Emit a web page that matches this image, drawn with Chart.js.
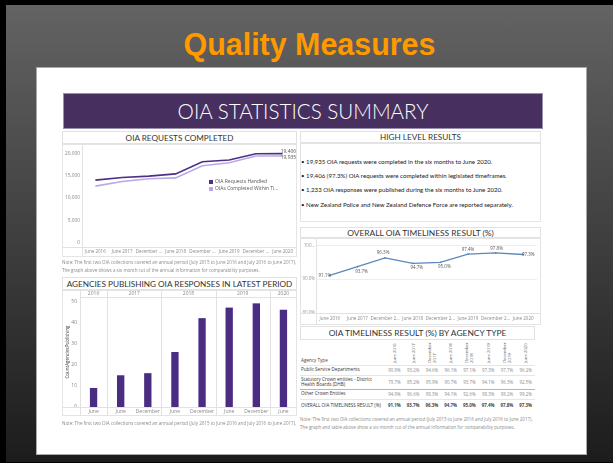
<!DOCTYPE html>
<html><head><meta charset="utf-8">
<script src="https://cdn.jsdelivr.net/npm/chart.js@4/dist/chart.umd.min.js"></script>
<style>
html,body{margin:0;padding:0;background:#000;width:613px;height:463px;overflow:hidden;position:relative;}
.a{position:absolute;box-sizing:border-box;}
#slide{left:6px;top:5px;width:607px;height:457px;background:linear-gradient(#636363,#1c1c1c);}
#qm{left:6px;top:27px;width:607px;text-align:center;font:bold 28px 'Liberation Sans',Arial,sans-serif;color:#ff9900;white-space:nowrap;line-height:34px;}
#panel{left:36px;top:67px;width:551px;height:388px;background:#fff;border:1px solid #a8a8a8;}
#hdr{left:63px;top:93px;width:480px;height:36px;background:#47305f;border:1px solid #9a8fb0;color:#fff;text-align:center;font-family:Lato,sans-serif;font-weight:300;font-size:22px;line-height:34px;white-space:nowrap;}
.tt{background:#fff;border:1px solid #e2e2e2;text-align:center;font-family:Lato,sans-serif;color:#333;white-space:nowrap;overflow:visible;}
.box{border:1px solid #e4e4e4;pointer-events:none;}
.note{font-family:'Open Sans',sans-serif;font-size:4.6px;color:#8a8a8a;white-space:nowrap;line-height:7.5px;}
.bul{font-family:Lato,sans-serif;font-size:6px;color:#222;white-space:nowrap;left:301px;line-height:8px;}
.lg{font-family:'Open Sans',sans-serif;font-size:5px;color:#555;white-space:nowrap;line-height:7px;}
.lg i{display:inline-block;width:4px;height:4px;margin-right:2px;vertical-align:middle;}
table{border-collapse:collapse;table-layout:fixed;font-family:'Open Sans',sans-serif;}
td,th{padding:0;}
</style></head><body>
<div class="a" id="slide"></div>
<div class="a" id="qm"><span class="f" data-fit="252">Quality Measures</span></div>
<div class="a" id="panel"></div>
<div class="a" id="hdr"><span class="f" data-fit="251">OIA STATISTICS SUMMARY</span></div>

<div class="a tt" style="left:62px;top:131px;width:235px;height:13px;font-size:10px;line-height:12px;"><span class="f" data-fit="108">OIA REQUESTS COMPLETED</span></div>
<canvas class="a" id="c1" width="235" height="113" style="left:62px;top:144px;"></canvas>
<div class="a box" style="left:62px;top:144px;width:235px;height:113px;"></div>
<div class="a lg" style="left:209px;top:178px;"><i style="background:#4e2f85"></i><span id="lg1"></span></div>
<div class="a lg" style="left:209px;top:185px;"><i style="background:#b8a9e6"></i><span id="lg2"></span></div>
<div class="a note" style="left:62px;top:259px;"><span class="f" data-fit="235">Note: The first two OIA collections covered an annual period (July 2015 to June 2016 and July 2016 to June 2017).</span><br>The graph above shows a six month cut of the annual information for comparability purposes.</div>

<div class="a tt" style="left:62px;top:277px;width:235px;height:13px;font-size:10px;line-height:12px;"><span class="f" data-fit="226">AGENCIES PUBLISHING OIA RESPONSES IN LATEST PERIOD</span></div>
<canvas class="a" id="c2" width="235" height="126" style="left:62px;top:290px;"></canvas>
<div class="a box" style="left:62px;top:290px;width:235px;height:126px;"></div>
<div class="a note" style="left:62px;top:420px;"><span class="f" data-fit="235">Note: The first two OIA collections covered an annual period (July 2015 to June 2016 and July 2016 to June 2017).</span></div>

<div class="a tt" style="left:300px;top:131px;width:241px;height:12px;font-size:10px;line-height:11px;"><span class="f" data-fit="81">HIGH LEVEL RESULTS</span></div>
<div class="a box" style="left:300px;top:143px;width:241px;height:79px;"></div>
<div class="a bul" style="top:158px;"><span class="f" data-fit="192" id="b1"></span></div>
<div class="a bul" style="top:172px;"><span id="b2"></span></div>
<div class="a bul" style="top:186px;"><span id="b3"></span></div>
<div class="a bul" style="top:201px;"><span id="b4"></span></div>

<div class="a tt" style="left:300px;top:227px;width:241px;height:11px;font-size:9.5px;line-height:10px;"><span class="f" data-fit="147">OVERALL OIA TIMELINESS RESULT (%)</span></div>
<canvas class="a" id="c3" width="241" height="87" style="left:300px;top:238px;"></canvas>
<div class="a box" style="left:300px;top:238px;width:241px;height:87px;"></div>

<div class="a tt" style="left:300px;top:326px;width:235px;height:14px;font-size:12px;line-height:13px;"><span class="f" data-fit="178">OIA TIMELINESS RESULT (%) BY AGENCY TYPE</span></div>
<div class="a" id="tblwrap" style="left:300px;top:340px;width:235px;"></div>
<div class="a note" style="left:300px;top:416px;"><span class="f" data-fit="233">Note: The first two OIA collections covered an annual period (July 2015 to June 2016 and July 2016 to June 2017).</span><br>The graph and table above show a six month cut of the annual information for comparability purposes.</div>

<script>
// ---------- DATA ----------
const periods = ['June 2016','June 2017','December 2017','June 2018','December 2018','June 2019','December 2019','June 2020'];
const requestTickLabels = ['June 2016','June 2017','December ...','June 2018','December ...','June 2019','December ...','June 2020'];
const requestsHandled = [14000,14600,14900,15400,18100,18500,19900,19935];
const completedWithinTimeframe = [12650,13700,14300,14500,17200,17900,19400,19406];
const requestSeriesNames = ['OIA Requests Handled','OIAs Completed Within Ti...'];
const requestEndLabels = ['19,935','19,406'];
const requestAxisTicks = [0,5000,10000,15000,20000];

const publishTickLabels = ['June','June','December','June','December','June','December','June'];
const publishYears = ['2016','2017','2017','2018','2018','2019','2019','2020'];
const agenciesPublishing = [9,15,16,26,42,47,49,46];
const publishAxisTicks = [0,10,20,30,40,50];
const publishAxisTitle = 'CountAgenciesPublishing';

const timelinessTickLabels = ['June 2016','June 2017','December 2...','June 2018','December 2...','June 2019','December 2...','June 2020'];
const overallTimeliness = [91.1,93.7,96.3,94.7,95.0,97.4,97.8,97.3];
const timelinessAxisTicks = [80,90,100];

const tableColumns = [['June 2016'],['June 2017'],['December','2017'],['June 2018'],['December','2018'],['June 2019'],['December','2019'],['June 2020']];
const agencyTypes = ['Public Service Departments','Statutory Crown entities - District Health Boards (DHB)','Other Crown Entities','OVERALL OIA TIMELINESS RESULT (%)'];
const publicServiceDepartments = [90.9,93.2,94.6,96.1,97.1,97.3,97.7,96.2];
const statutoryCrownDHB = [79.7,85.2,95.9,90.7,93.7,94.1,96.3,92.5];
const otherCrownEntities = [94.9,96.6,98.3,94.1,92.6,98.3,98.2,99.2];

const bullets = [
 '• 19,935 OIA requests were completed in the six months to June 2020.',
 '• 19,406 (97.3%) OIA requests were completed within legislated timeframes.',
 '• 1,233 OIA responses were published during the six months to June 2020.',
 '• New Zealand Police and New Zealand Defence Force are reported separately.'
];

// ---------- TEXT ----------
['b1','b2','b3','b4'].forEach((id,i)=>document.getElementById(id).textContent=bullets[i]);
document.getElementById('lg1').textContent=requestSeriesNames[0];
document.getElementById('lg2').textContent=requestSeriesNames[1];

// table
(function(){
  const rows=[publicServiceDepartments,statutoryCrownDHB,otherCrownEntities,overallTimeliness];
  const heights=[10,14,10,12];
  let h='<table style="width:235px"><colgroup><col style="width:85px">'+tableColumns.map(()=> '<col style="width:18.75px">').join('')+'</colgroup>';
  h+='<tr style="height:25px"><th style="text-align:left;vertical-align:bottom;font-weight:normal;font-size:4.6px;color:#444;padding:0 0 2px 1px;">Agency Type</th>';
  tableColumns.forEach(c=>{h+='<th style="font-weight:normal;font-size:4.3px;color:#555;vertical-align:top;"><div style="writing-mode:vertical-rl;transform:rotate(180deg);margin:auto;height:23px;line-height:5px;text-align:left;">'+c.join('<br>')+'</div></th>';});
  h+='</tr>';
  rows.forEach((r,i)=>{
    const last=i===3;
    const bt = i===2 ? '1.5px solid #b5b5b5' : '1px solid #e6e6e6';
    h+='<tr style="height:'+heights[i]+'px;border-top:'+bt+'">';
    h+='<td style="font-size:4.6px;color:#333;line-height:5.5px;padding-left:1px;">'+agencyTypes[i]+'</td>';
    r.forEach(v=>{h+='<td style="text-align:center;font-size:4.4px;color:'+(last?'#444':'#8a8a8a')+';font-weight:'+(last?'bold':'normal')+'">'+v.toFixed(1)+'%</td>';});
    h+='</tr>';
  });
  h+='</table>';
  document.getElementById('tblwrap').innerHTML=h;
})();

// fit titles
document.querySelectorAll('[data-fit]').forEach(sp=>{
  const target=+sp.dataset.fit;
  const el=sp.parentElement;
  const fs=parseFloat(getComputedStyle(el).fontSize);
  const w=sp.getBoundingClientRect().width;
  if(w>0){el.style.fontSize=(fs*target/w)+'px';}
});
(function(){const fs=getComputedStyle(document.getElementById('b1').parentElement).fontSize;
 document.querySelectorAll('.bul').forEach(e=>e.style.fontSize=fs);})();

// ---------- CHARTS ----------
Chart.defaults.font.family="'Open Sans', sans-serif";
Chart.defaults.color='#888';
const base={responsive:false,animation:false,devicePixelRatio:1,plugins:{legend:{display:false},tooltip:{enabled:false}}};
const noGrid={display:false,drawTicks:false,tickLength:0};

const frameLines={id:'frameLines',afterDraw(c){const {ctx,chartArea:a}=c;ctx.save();ctx.strokeStyle='#e2e2e2';ctx.lineWidth=1;
  ctx.beginPath();ctx.moveTo(Math.round(a.left)+0.5,0);ctx.lineTo(Math.round(a.left)+0.5,c.height);
  ctx.moveTo(0,Math.round(a.bottom)+0.5);ctx.lineTo(c.width,Math.round(a.bottom)+0.5);ctx.stroke();ctx.restore();}};

// Chart 1
const endLabels={id:'endLabels',afterDatasetsDraw(c){const ctx=c.ctx;ctx.save();ctx.font="5px 'Open Sans'";ctx.fillStyle='#555';ctx.textBaseline='middle';ctx.textAlign='left';
  const offs=[4,-4];
  c.data.datasets.forEach((d,i)=>{const pts=c.getDatasetMeta(i).data;const p=pts[pts.length-1];ctx.fillText(requestEndLabels[i],p.x-2,p.y+offs[i]);});
  ctx.restore();}};
new Chart(document.getElementById('c1'),{type:'line',
 data:{labels:requestTickLabels,datasets:[
  {label:requestSeriesNames[0],data:requestsHandled,borderColor:'#4e2f85',borderWidth:1.6,pointRadius:0},
  {label:requestSeriesNames[1],data:completedWithinTimeframe,borderColor:'#b8a9e6',borderWidth:1.6,pointRadius:0}]},
 options:{...base,layout:{padding:{top:2,right:1,left:0,bottom:0}},
  scales:{
   x:{offset:true,grid:noGrid,border:{display:false},ticks:{font:{size:4.5},color:'#888',autoSkip:false,maxRotation:0,padding:2.5},afterFit:s=>{s.height=10;}},
   y:{min:-1000,max:21000,afterBuildTicks:s=>{s.ticks=requestAxisTicks.map(v=>({value:v}));},
      ticks:{font:{size:4.8},color:'#888',padding:2,callback:v=>v.toLocaleString('en-US')},
      grid:noGrid,border:{display:false},afterFit:s=>{s.width=20;}}}},
 plugins:[endLabels,frameLines]});

// Chart 2
const yearHeader={id:'yearHeader',afterDraw(c){const {ctx,chartArea:a}=c;const xs=c.scales.x;ctx.save();
  ctx.strokeStyle='#e2e2e2';ctx.lineWidth=1;ctx.font="5px 'Open Sans'";ctx.fillStyle='#888';ctx.textAlign='center';ctx.textBaseline='middle';
  let start=0;
  for(let i=1;i<=publishYears.length;i++){
    if(i===publishYears.length||publishYears[i]!==publishYears[start]){
      const x0=start===0?a.left:(xs.getPixelForValue(start-1)+xs.getPixelForValue(start))/2;
      const x1=i===publishYears.length?a.right:(xs.getPixelForValue(i-1)+xs.getPixelForValue(i))/2;
      ctx.fillText(publishYears[start],(x0+x1)/2,a.top/2+0.5);
      if(i<publishYears.length){ctx.beginPath();ctx.moveTo(Math.round(x1)+0.5,0);ctx.lineTo(Math.round(x1)+0.5,c.height);ctx.stroke();}
      start=i;}
  }
  ctx.beginPath();ctx.moveTo(a.left,Math.round(a.top)+0.5);ctx.lineTo(c.width,Math.round(a.top)+0.5);ctx.stroke();
  ctx.restore();}};
new Chart(document.getElementById('c2'),{type:'bar',
 data:{labels:publishTickLabels,datasets:[{data:agenciesPublishing,backgroundColor:'#4a2d83',barPercentage:0.27,categoryPercentage:1}]},
 options:{...base,layout:{padding:{top:7,right:0,left:0,bottom:0}},
  scales:{
   x:{grid:noGrid,border:{display:false},ticks:{font:{size:5},color:'#888',autoSkip:false,maxRotation:0,padding:1.5},afterFit:s=>{s.height=9;}},
   y:{min:0,max:52,afterBuildTicks:s=>{s.ticks=publishAxisTicks.map(v=>({value:v}));},
      title:{display:true,text:publishAxisTitle,font:{size:4.5},color:'#333',padding:{top:3,bottom:0}},
      ticks:{font:{size:5},color:'#888',padding:3},grid:noGrid,border:{display:false},afterFit:s=>{s.width=18;}}}},
 plugins:[yearHeader,frameLines]});

// Chart 3
const labelOffsets=[[-5,0],[4,5],[-2,-5],[4,4.5],[4,4.5],[0,-4.5],[1,-4.5],[5,0]];
const pointLabels={id:'pointLabels',afterDatasetsDraw(c){const ctx=c.ctx;ctx.save();ctx.font="4.5px 'Open Sans'";ctx.fillStyle='#555';ctx.textAlign='center';ctx.textBaseline='middle';
  c.getDatasetMeta(0).data.forEach((p,i)=>{const o=labelOffsets[i];ctx.fillText(overallTimeliness[i].toFixed(1)+'%',p.x+o[0],p.y+o[1]);});ctx.restore();}};
new Chart(document.getElementById('c3'),{type:'line',
 data:{labels:timelinessTickLabels,datasets:[{data:overallTimeliness,borderColor:'#5b86c0',borderWidth:1.3,pointRadius:0.9,pointBackgroundColor:'#5b86c0',pointBorderWidth:0}]},
 options:{...base,layout:{padding:{top:3,right:0,left:0,bottom:0}},
  scales:{
   x:{offset:true,grid:noGrid,border:{display:false},ticks:{font:{size:4.5},color:'#888',autoSkip:false,maxRotation:0,padding:3},afterFit:s=>{s.height=12;}},
   y:{min:80,max:101,afterBuildTicks:s=>{s.ticks=timelinessAxisTicks.map(v=>({value:v}));},
      ticks:{font:{size:4.5},color:'#999',padding:1,callback:v=>{const t=v.toFixed(1)+'%';return t.length>5?t.slice(0,3)+'...':t;}},
      grid:{color:'#eeeeee',drawTicks:false,tickLength:0},border:{display:false},afterFit:s=>{s.width=16;}}}},
 plugins:[pointLabels,frameLines]});
</script>
</body></html>
